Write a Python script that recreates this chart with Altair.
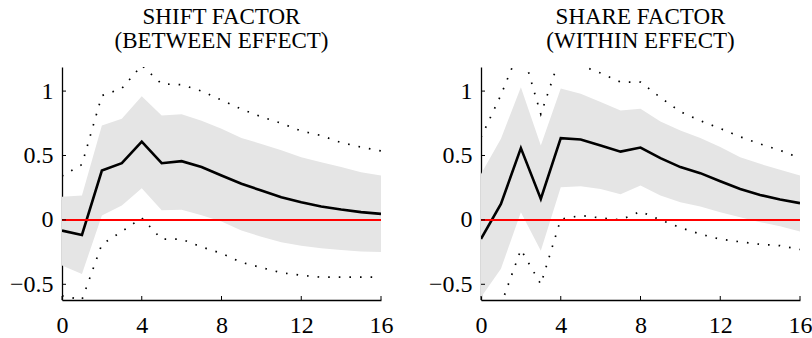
import altair as alt
import pandas as pd

# ---- data ----
HORIZON = list(range(17))

L_TITLE = ["SHIFT FACTOR", "(BETWEEN EFFECT)"]
L_MED = [-0.083, -0.117, 0.383, 0.44, 0.607, 0.44, 0.456, 0.41, 0.345, 0.28, 0.228, 0.176, 0.137, 0.104, 0.08, 0.06, 0.047]
L_HI = [0.18, 0.19, 0.733, 0.785, 0.96, 0.81, 0.82, 0.77, 0.707, 0.635, 0.59, 0.54, 0.487, 0.448, 0.41, 0.37, 0.345]
L_LO = [-0.355, -0.42, 0.034, 0.112, 0.246, 0.075, 0.078, 0.036, -0.012, -0.083, -0.13, -0.174, -0.2, -0.22, -0.233, -0.246, -0.25]
L_UP = [0.34, 0.43, 0.965, 1.02, 1.2, 1.055, 1.05, 1.0, 0.93, 0.86, 0.80, 0.75, 0.69, 0.655, 0.60, 0.565, 0.535]
L_DN = [-0.59, -0.62, -0.19, -0.09, 0.015, -0.15, -0.15, -0.21, -0.26, -0.33, -0.37, -0.41, -0.43, -0.445, -0.445, -0.445, -0.445]

R_TITLE = ["SHARE FACTOR", "(WITHIN EFFECT)"]
R_MED = [-0.148, 0.124, 0.557, 0.163, 0.635, 0.624, 0.578, 0.53, 0.562, 0.48, 0.41, 0.363, 0.30, 0.24, 0.194, 0.158, 0.13]
R_HI = [0.357, 0.63, 1.03, 0.578, 1.02, 0.98, 0.915, 0.85, 0.863, 0.764, 0.694, 0.635, 0.565, 0.487, 0.435, 0.39, 0.345]
R_LO = [-0.6, -0.38, 0.06, -0.24, 0.254, 0.262, 0.24, 0.2, 0.267, 0.19, 0.137, 0.104, 0.06, 0.02, -0.018, -0.05, -0.09]
R_UP = [0.64, 0.97, 1.35, 0.82, 1.28, 1.2, 1.14, 1.07, 1.07, 0.95, 0.84, 0.77, 0.71, 0.645, 0.59, 0.54, 0.48]
R_DN = [-0.95, -0.66, -0.23, -0.50, 0.005, 0.034, 0.015, 0.0, 0.065, 0.0, -0.06, -0.11, -0.15, -0.17, -0.19, -0.2, -0.23]

X_TICKS = [0, 4, 8, 12, 16]
Y_TICKS = [-0.5, 0, 0.5, 1]
ZERO = [0]

# ---- style ----
FONT = "Liberation Serif"
W, H = 319, 233
X_DOMAIN = [0, 16]
Y_DOMAIN = [-0.622, 1.187]
BAND = "#e5e5e5"
MINUS = "replace(datum.label, '-', '\u2212')"


def panel(title, med, hi, lo, up, dn):
    df = pd.DataFrame({"h": HORIZON, "med": med, "hi": hi, "lo": lo, "up": up, "dn": dn})
    xs = alt.Scale(domain=X_DOMAIN, nice=False, zero=False)
    ys = alt.Scale(domain=Y_DOMAIN, nice=False, zero=False)
    xax = alt.Axis(values=X_TICKS, format="~g", title=None, grid=False, tickSize=0,
                   labelPadding=13, labelFont=FONT, labelFontSize=24, labelColor="black",
                   domainColor="black", domainWidth=1.3, labelFlush=False)
    yax = alt.Axis(values=Y_TICKS, format="~g", labelExpr=MINUS, title=None, grid=False, tickSize=0,
                   labelPadding=9, labelFont=FONT, labelFontSize=24, labelColor="black",
                   domainColor="black", domainWidth=1.3, labelFlush=False)
    X = alt.X("h:Q", scale=xs, axis=xax)
    base = alt.Chart(df)
    band = base.mark_area(color=BAND, clip=True).encode(x=X, y=alt.Y("lo:Q", scale=ys, axis=yax), y2="hi:Q")
    dot_up = base.mark_line(color="black", strokeWidth=1.7, strokeDash=[1.6, 9], clip=True).encode(
        x=X, y=alt.Y("up:Q", scale=ys, axis=yax))
    dot_dn = base.mark_line(color="black", strokeWidth=1.7, strokeDash=[1.6, 9], clip=True).encode(
        x=X, y=alt.Y("dn:Q", scale=ys, axis=yax))
    median = base.mark_line(color="black", strokeWidth=2.6, clip=True).encode(
        x=X, y=alt.Y("med:Q", scale=ys, axis=yax))
    zero = alt.Chart(pd.DataFrame({"z": ZERO})).mark_rule(color="#ff0000", strokeWidth=2).encode(
        y=alt.Y("z:Q", scale=ys, axis=yax))
    xt = alt.Chart(pd.DataFrame({"t": X_TICKS})).mark_rule(color="black", strokeWidth=1).encode(
        x=alt.X("t:Q", scale=xs, axis=xax), y=alt.value(H), y2=alt.value(H - 4))
    yt = alt.Chart(pd.DataFrame({"t": Y_TICKS})).mark_rule(color="black", strokeWidth=1).encode(
        y=alt.Y("t:Q", scale=ys, axis=yax), x=alt.value(0), x2=alt.value(4))
    return alt.layer(band, dot_up, dot_dn, median, zero, xt, yt).properties(
        width=W, height=H,
        title=alt.TitleParams(text=title, font=FONT, fontSize=23, fontWeight="normal",
                              lineHeight=23.6, offset=14, anchor="middle", color="black"),
    )


chart = alt.hconcat(
    panel(L_TITLE, L_MED, L_HI, L_LO, L_UP, L_DN),
    panel(R_TITLE, R_MED, R_HI, R_LO, R_UP, R_DN),
    spacing=100, bounds="flush",
).properties(
    padding={"left": 9, "top": 6, "right": 0, "bottom": 0},
    background="white",
).configure(font=FONT).configure_axis(
    labelFont=FONT, labelFontSize=24, labelColor="black"
).configure_view(strokeWidth=0)

chart.save("out.html", embed_options={"renderer": "svg", "actions": False})
